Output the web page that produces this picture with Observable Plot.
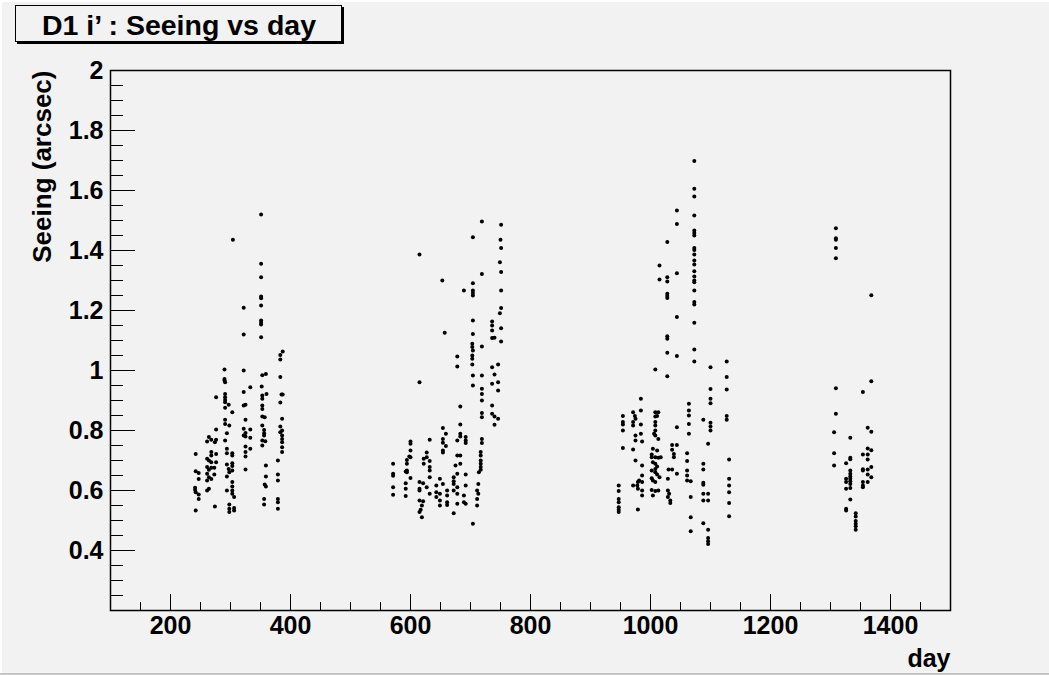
<!DOCTYPE html>
<html><head><meta charset="utf-8">
<script src="https://cdn.jsdelivr.net/npm/d3@7"></script>
<script src="https://cdn.jsdelivr.net/npm/@observablehq/plot@0.6"></script>
<style>
html,body{margin:0;padding:0;background:#f2f2f2;}
#chart{width:1049px;height:675px;overflow:hidden;}
</style></head><body><div id="chart"></div>
<script>
// [day, seeing (arcsec)] — season 1 (days ~240-390)
const season1 = [
[351,1.520],[304,1.436],[351,1.356],[351,1.311],[351,1.247],[351,1.241],[351,1.217],[322,1.209],[351,1.167],[351,1.159],[351,1.153],[322,1.120],[351,1.111],[387,1.063],[383,1.052],[383,1.037],[290,1.003],[322,1.000],[353,0.984],[359,0.988],[383,0.978],[290,0.972],[290,0.967],
[242,0.722],[242,0.664],[247,0.658],[247,0.638],[241,0.609],[241,0.602],[242,0.594],[247,0.587],[247,0.572],[242,0.533],
[261,0.763],[264,0.778],[268,0.769],[274,0.761],[276,0.769],[276,0.803],[276,0.911],
[268,0.728],[268,0.717],[276,0.722],[261,0.706],[264,0.700],[268,0.694],[276,0.694],[261,0.678],[264,0.669],[268,0.676],[273,0.676],[261,0.656],[264,0.644],[268,0.638],[273,0.653],[261,0.633],[264,0.606],[261,0.600],[274,0.547],
[291,0.961],[291,0.922],[291,0.911],[291,0.902],[291,0.894],[297,0.886],[291,0.876],[303,0.861],[291,0.836],[291,0.822],[298,0.817],[294,0.791],[291,0.767],[294,0.739],[294,0.724],[303,0.724],[303,0.717],[294,0.687],[303,0.691],[303,0.682],[297,0.672],[303,0.667],[298,0.661],[294,0.647],[303,0.628],[303,0.613],[294,0.600],[303,0.600],[303,0.589],[306,0.578],[298,0.553],[298,0.539],[298,0.528],[306,0.542],[306,0.533],
[322,0.928],[333,0.944],[322,0.883],[325,0.886],[325,0.836],[322,0.806],[333,0.803],[325,0.792],[322,0.783],[325,0.780],[333,0.776],[325,0.747],[333,0.739],[325,0.728],[325,0.713],[325,0.670],
[352,0.947],[360,0.922],[353,0.917],[353,0.906],[353,0.883],[353,0.872],[353,0.847],[357,0.844],[353,0.817],[356,0.802],[356,0.791],[356,0.783],[353,0.767],[358,0.764],[353,0.750],[359,0.683],[359,0.647],[357,0.620],[359,0.613],[356,0.572],[356,0.553],
[385,0.920],[387,0.920],[383,0.893],[386,0.839],[383,0.813],[386,0.800],[383,0.794],[386,0.783],[386,0.772],[386,0.761],[386,0.744],[386,0.728],[379,0.700],[379,0.653],[379,0.633],[379,0.572],[379,0.561],[379,0.539]
];
// season 2 (days ~570-750)
const season2 = [
[615,1.387],[653,1.300],[657,1.126],[615,0.961],[654,0.808],[659,0.789],[654,0.772],[654,0.759],[659,0.748],[654,0.733],[654,0.727],
[600,0.763],[600,0.756],[600,0.733],[598,0.713],[600,0.711],[594,0.702],[594,0.689],[594,0.667],[592,0.663],[594,0.661],[600,0.642],
[571,0.689],[571,0.656],[571,0.649],[571,0.611],[571,0.586],
[592,0.624],[592,0.606],[592,0.582],
[632,0.769],[627,0.727],[627,0.711],[622,0.706],[622,0.689],[632,0.698],[632,0.678],[632,0.667],[632,0.644],
[615,0.628],[621,0.624],[615,0.606],[615,0.600],[627,0.611],[632,0.589],
[615,0.567],[621,0.564],[619,0.550],[617,0.536],[615,0.528],[619,0.511],
[643,0.617],[649,0.639],[654,0.622],[643,0.594],[649,0.589],[643,0.578],[649,0.567],[649,0.550],
[661,0.600],[661,0.583],[661,0.561],[661,0.552],
[719,1.497],[751,1.486],[704,1.444],[750,1.436],[751,1.408],[749,1.361],[751,1.328],[719,1.322],[689,1.267],[704,1.291],[704,1.267],[704,1.258],[704,1.250],[751,1.267],[751,1.208],[749,1.191],[704,1.167],[704,1.122],[736,1.163],[736,1.150],[736,1.133],[740,1.109],[736,1.108],[751,1.141],[751,1.097],[719,1.080],[703,1.089],[703,1.078],[704,1.067],[703,1.050],[703,1.039],[703,1.020],[678,1.047],[678,1.013],[704,0.983],[704,0.950],[719,0.983],[736,1.011],[746,1.020],[740,0.987],[736,0.956],[746,0.961],[746,0.933],[719,0.939],[719,0.922],[719,0.900],[683,0.880],[719,0.858],[719,0.844],[736,0.883],[736,0.856],[740,0.847],[746,0.839],[740,0.819],[683,0.820],
[683,0.789],[683,0.780],[678,0.767],[692,0.778],[692,0.767],[692,0.758],
[719,0.772],[719,0.758],[717,0.728],[717,0.717],
[678,0.717],[683,0.717],[675,0.683],[683,0.689],[678,0.656],[672,0.644],[692,0.653],[672,0.631],[672,0.622],[678,0.611],[692,0.617],[672,0.600],[678,0.589],[689,0.583],[689,0.561],[678,0.556],[672,0.524],[692,0.556],
[717,0.700],[717,0.689],[717,0.678],[717,0.669],[714,0.661],[713,0.622],[711,0.600],[713,0.589],[711,0.572],[711,0.550],
[704,0.489]
];
// season 3 (days ~945-1135)
const season3 = [
[1015,1.350],[1015,1.303],[1008,1.003],[984,0.906],[954,0.848],[954,0.828],[954,0.820],[954,0.800],[954,0.742],
[971,0.861],[974,0.848],[971,0.828],[971,0.817],[975,0.839],
[984,0.867],[984,0.820],[984,0.789],[986,0.763],[975,0.783],[975,0.767],[971,0.737],[975,0.700],
[947,0.617],[947,0.598],[947,0.572],[947,0.561],[947,0.544],[947,0.536],[947,0.528],
[979,0.537],
[986,0.683],[986,0.650],[986,0.628],[986,0.600],[986,0.583],[981,0.633],[979,0.628],[978,0.617],[979,0.606],[971,0.617],
[1008,0.861],[1013,0.861],[1008,0.847],[1011,0.848],[1008,0.828],[1008,0.817],[1008,0.800],[1006,0.789],[1008,0.783],[1013,0.772],
[1004,0.739],[1011,0.733],[1002,0.720],[1002,0.711],[1008,0.711],[1013,0.709],[1004,0.694],[1008,0.689],[1011,0.680],[1008,0.672],[1002,0.667],[1008,0.661],[1011,0.653],[1015,0.644],[1002,0.641],[1004,0.633],[1008,0.628],[1008,0.598],[1002,0.602],[1004,0.583],[1013,0.600],[1017,0.711],
[1073,1.698],[1073,1.606],[1073,1.580],[1044,1.533],[1073,1.517],[1044,1.488],[1073,1.467],[1073,1.458],[1073,1.450],[1028,1.428],
[1073,1.408],[1073,1.402],[1073,1.387],[1073,1.367],[1073,1.353],[1073,1.331],[1073,1.313],[1073,1.300],[1073,1.294],[1073,1.267],[1073,1.228],[1073,1.220],[1073,1.159],
[1028,1.311],[1028,1.297],[1044,1.324],[1028,1.256],[1028,1.248],[1028,1.242],[1044,1.178],[1028,1.114],[1028,1.106],[1028,1.059],[1044,1.048],[1073,1.070],[1073,1.030],[1028,0.981],
[1127,1.030],[1100,1.011],[1127,0.978],[1127,0.937],[1100,0.938],[1100,0.906],[1100,0.891],[1064,0.889],[1064,0.867],[1064,0.850],[1127,0.848],[1127,0.836],[1088,0.836],[1100,0.826],[1100,0.813],[1100,0.800],[1064,0.822],[1064,0.789],[1044,0.811],[1096,0.756],
[1036,0.752],[1044,0.752],[1036,0.736],[1039,0.722],[1039,0.711],[1036,0.670],[1030,0.670],[1044,0.656],[1029,0.639],[1029,0.600],[1031,0.589],[1029,0.578],[1033,0.567],[1033,0.558],
[1061,0.724],[1061,0.698],[1061,0.667],[1061,0.650],[1061,0.633],[1067,0.631],
[1067,0.578],[1067,0.511],[1067,0.464],
[1088,0.689],[1088,0.670],[1088,0.626],[1088,0.619],[1088,0.589],[1088,0.567],[1096,0.589],[1096,0.567],[1088,0.491],
[1096,0.469],[1096,0.442],[1096,0.431],[1096,0.422],
[1131,0.703],[1131,0.639],[1131,0.617],[1131,0.594],[1131,0.558],[1131,0.514]
];
// season 4 (days ~1305-1370)
const season4 = [
[1309,1.474],[1309,1.441],[1309,1.436],[1309,1.408],[1309,1.374],[1368,1.251],[1368,0.964],[1309,0.941],[1354,0.928],[1309,0.856],[1306,0.794],[1362,0.809],[1368,0.796],[1333,0.776],[1306,0.724],[1362,0.740],[1368,0.734],[1354,0.720],[1362,0.720],[1362,0.703],[1333,0.709],[1333,0.704],[1306,0.683],[1326,0.691],[1368,0.678],[1354,0.671],[1354,0.667],[1362,0.670],[1362,0.653],[1368,0.644],[1333,0.667],[1333,0.656],[1333,0.647],[1333,0.639],[1333,0.631],[1333,0.622],[1333,0.608],[1326,0.639],[1326,0.628],[1326,0.606],[1354,0.628],[1362,0.628],[1354,0.617],[1354,0.611],[1333,0.570],[1326,0.539],[1326,0.533],[1342,0.524],[1342,0.513],[1342,0.498],[1342,0.489],[1342,0.481],[1342,0.469]
];

const xTickLabels = [200, 400, 600, 800, 1000, 1200, 1400];
const yTickLabels = [0.4, 0.6, 0.8, 1, 1.2, 1.4, 1.6, 1.8, 2];
const xDomain = [100, 1500];
const yDomain = [0.2, 2];
const titleText = "D1 i\u2019 : Seeing vs day";
const xTitle = "day";
const yTitle = "Seeing (arcsec)";

const points = [...season1, ...season2, ...season3, ...season4].map(([day, seeing]) => ({day, seeing}));
const xMinor = d3.range(100, 1500.1, 50);
const yMinor = d3.range(0, 37).map(i => 0.2 + i * 0.05);

const FONT = "'Liberation Sans', Arial, Helvetica, sans-serif";

const svg = Plot.plot({
  width: 1049, height: 675,
  marginLeft: 110, marginRight: 99, marginTop: 70, marginBottom: 65,
  style: {background: "#f2f2f2", fontFamily: FONT, fontWeight: "bold", fontSize: "25px", color: "black", overflow: "visible"},
  x: {domain: xDomain},
  y: {domain: yDomain},
  marks: [
    Plot.axisX({ticks: xMinor, tickSize: -8, tickFormat: () => "", label: null, strokeWidth: 1}),
    Plot.axisX({ticks: xTickLabels, tickSize: -16, tickFormat: () => "", label: null, strokeWidth: 1}),
    Plot.axisX({ticks: xTickLabels, tickSize: 0, tickPadding: 6, tickFormat: d => String(d), label: null, fontSize: 25}),
    Plot.axisY({ticks: yMinor, tickSize: -13, tickFormat: () => "", label: null, strokeWidth: 1}),
    Plot.axisY({ticks: yTickLabels, tickSize: -25, tickFormat: () => "", label: null, strokeWidth: 1}),
    Plot.axisY({ticks: yTickLabels, tickSize: 0, tickPadding: 7, tickFormat: d => String(d), label: null, fontSize: 25}),
    Plot.frame({stroke: "black", strokeWidth: 1.5}),
    Plot.dot(points, {x: "day", y: "seeing", r: 2, fill: "black", stroke: null}),
    Plot.text([yTitle], {frameAnchor: "top-left", rotate: -90, textAnchor: "end", lineAnchor: "middle", dx: -68, fontSize: 26}),
    Plot.text([xTitle], {frameAnchor: "bottom-right", textAnchor: "end", lineAnchor: "bottom", dy: 56, fontSize: 25})
  ]
});

const s = d3.select(svg);
// canvas edges
s.append("rect").attr("x", 0).attr("y", 0).attr("width", 1049).attr("height", 2).attr("fill", "#ffffff");
s.append("rect").attr("x", 0).attr("y", 0).attr("width", 2).attr("height", 675).attr("fill", "#ffffff");
s.append("rect").attr("x", 0).attr("y", 673).attr("width", 1049).attr("height", 2).attr("fill", "#c4c4c4");
// title box with shadow
s.append("rect").attr("x", 17).attr("y", 7).attr("width", 327).attr("height", 37).attr("fill", "black");
s.append("rect").attr("x", 15.5).attr("y", 5.5).attr("width", 326).attr("height", 36).attr("fill", "#f2f2f2").attr("stroke", "black").attr("stroke-width", 1);
s.append("text").attr("x", 179).attr("y", 34.5).attr("text-anchor", "middle")
  .attr("font-family", FONT).attr("font-weight", "bold").attr("font-size", 28.5).attr("fill", "black").text(titleText);

document.getElementById("chart").appendChild(svg);
</script>
</body></html>
